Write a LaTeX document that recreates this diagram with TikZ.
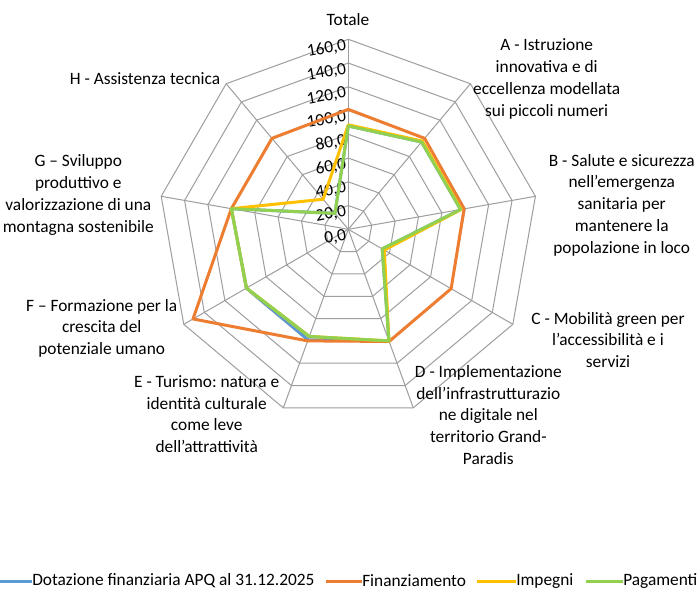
\documentclass[tikz,border=0pt]{standalone}
\usepackage{fontspec}
\setmainfont{Carlito}
\frenchspacing
\definecolor{dotblue}{HTML}{5B9BD5}
\definecolor{finorange}{HTML}{ED7D31}
\definecolor{impyellow}{HTML}{FFC000}
\definecolor{paggreen}{HTML}{92D050}
\tikzset{
  gridline/.style={draw=black!38, line width=0.75pt},
  serie/.style={line width=2.25pt, line join=round},
  ticklabel/.style={anchor=east, rotate=10, inner sep=0pt},
  catlabel/.style={align=center, inner sep=0pt},
  legtext/.style={anchor=west, inner sep=0pt}
}
\begin{document}
\begin{tikzpicture}[x=0.75pt, y=0.75pt, font=\fontsize{13}{16.3}\selectfont]
    \useasboundingbox (0,0) rectangle (699,597);
    \fill[white] (0,0) rectangle (699,597);
    \def\u{1.1875}
    \begin{scope}[shift={(348.3,367.7)}]
        % rings and spokes
        \foreach \r in {1,...,8}
            \draw[gridline] (90:\r*23.75) \foreach \i in {1,...,8}{ -- (90-40*\i:\r*23.75)} -- cycle;
        \foreach \i in {0,...,8}
            \draw[gridline] (0,0) -- (90-40*\i:190);
        \foreach \v [count=\k from 0] in {0,20,...,160}
            \node[ticklabel] (tick\v) at (-2,\k*23.75-6) {\v,0};
        % series
        \draw[serie, dotblue] (90:87*\u) -- (50:96*\u) -- (10:96*\u) -- (-30:33*\u) -- (-70:100*\u)
            -- (-110:99*\u) -- (-150:99*\u) -- (170:100*\u) -- (130:17.5*\u) -- cycle;
        \draw[serie, finorange] (90:101*\u) -- (50:100*\u) -- (10:99*\u) -- (-30:100*\u) -- (-70:100.5*\u)
            -- (-110:100*\u) -- (-150:151*\u) -- (170:100*\u) -- (130:100*\u) -- cycle;
        \draw[serie, impyellow] (90:88*\u) -- (50:97*\u) -- (10:96.5*\u) -- (-30:35*\u) -- (-70:100*\u)
            -- (-110:96*\u) -- (-150:99*\u) -- (170:100*\u) -- (130:33*\u) -- cycle;
        \draw[serie, paggreen] (90:87*\u) -- (50:96*\u) -- (10:96*\u) -- (-30:33*\u) -- (-70:100*\u)
            -- (-110:96*\u) -- (-150:99*\u) -- (170:100*\u) -- (130:17.5*\u) -- cycle;
    \end{scope}
    % category labels
    \node[catlabel] (tot) at (348,577) {Totale};
    \node[catlabel] (catA) at (546.7,518) {A - Istruzione\\innovativa e di\\eccellenza modellata\\sui piccoli numeri};
    \node[catlabel] (catB) at (621.7,392) {B - Salute e sicurezza\\nell'emergenza\\sanitaria per\\mantenere la\\popolazione in loco};
    \node[catlabel] (catC) at (608,257) {C - Mobilità green per\\l’accessibilità e i\\servizi};
    \node[catlabel] (catD) at (488.3,182) {D - Implementazione\\dell’infrastrutturazio\\ne digitale nel\\territorio Grand-\\Paradis};
    \node[catlabel] (catE) at (206.7,183) {E - Turismo: natura e\\identità culturale\\come leve\\dell’attrattività};
    \node[catlabel] (catF) at (101.7,268.7) {F – Formazione per la\\crescita del\\potenziale umano};
    \node[catlabel] (catG) at (78.3,402) {G – Sviluppo\\produttivo e\\valorizzazione di una\\montagna sostenibile};
    \node[catlabel] (catH) at (145,518) {H - Assistenza tecnica};
    % legend
    \node[legtext] (legdot) at (32,16) {Dotazione finanziaria APQ al 31.12.2025};
    \node[legtext] (legfin) at (362,16) {Finanziamento};
    \node[legtext] (legimp) at (516,16) {Impegni};
    \node[legtext] (legpag) at (623,16) {Pagamenti};
    \draw[serie, dotblue] ([xshift=-24pt]legdot.west) -- (legdot.west);
    \draw[serie, finorange] ([xshift=-27pt]legfin.west) -- (legfin.west);
    \draw[serie, impyellow] ([xshift=-29pt]legimp.west) -- (legimp.west);
    \draw[serie, paggreen] ([xshift=-28pt]legpag.west) -- (legpag.west);
\end{tikzpicture}
\end{document}
